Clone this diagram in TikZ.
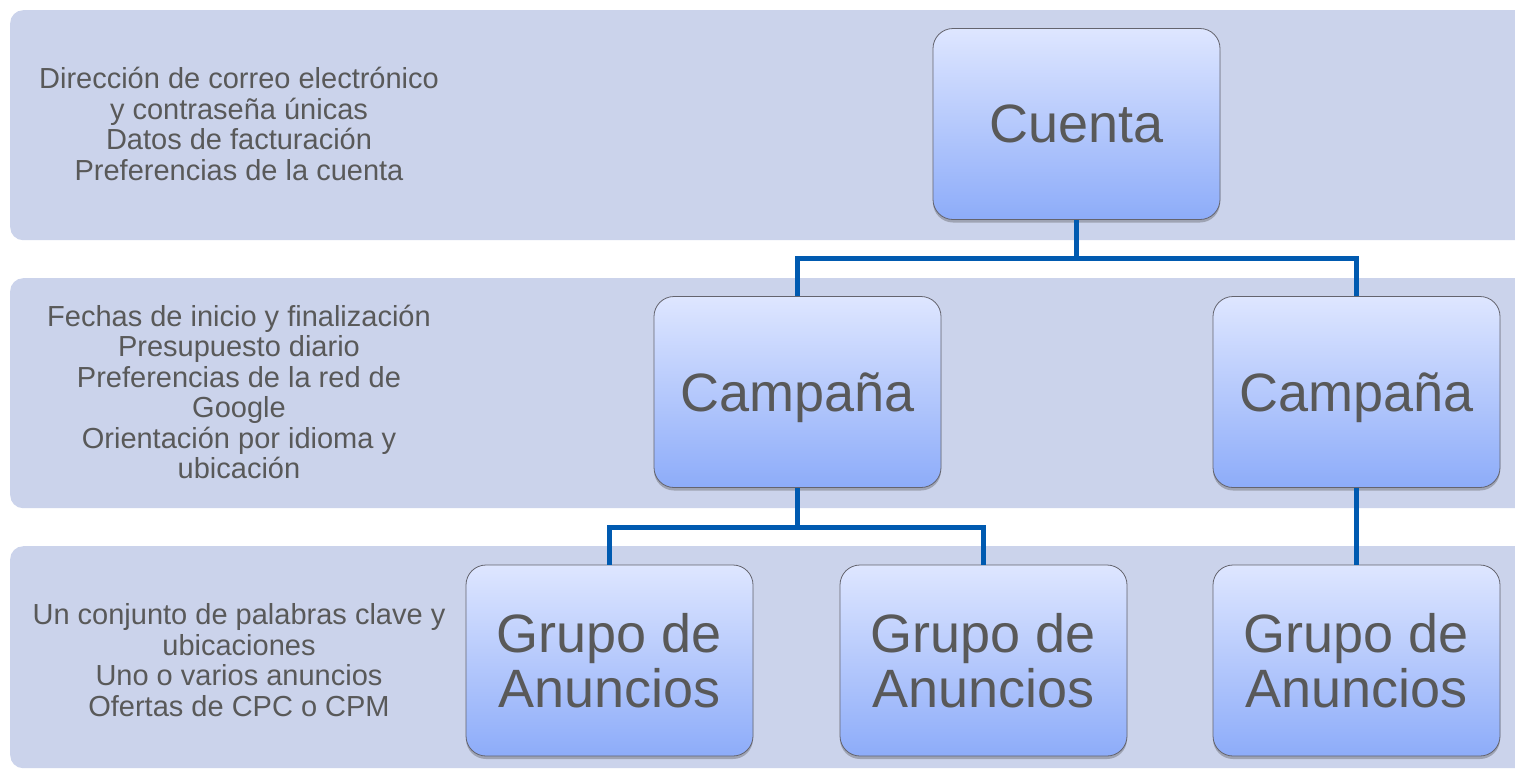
\documentclass[tikz,border=0pt]{standalone}
\usepackage{fontspec}
\setmainfont{Liberation Sans}
\usetikzlibrary{shadows}
\definecolor{bandc}{RGB}{203,211,235}
\definecolor{boxtop}{RGB}{222,230,255}
\definecolor{boxbot}{RGB}{141,172,249}
\definecolor{boxline}{RGB}{100,100,110}
\definecolor{connc}{RGB}{0,90,176}
\definecolor{txt}{RGB}{89,89,89}
\tikzset{
  band/.style={fill=bandc, draw=none, rounded corners=13pt, anchor=north west, inner sep=0pt},
  infotext/.style={text=txt, align=center, font=\fontsize{29}{30.5}\selectfont, inner sep=0pt},
  levelbox/.style={rounded corners=20pt, draw=boxline, line width=0.8pt,
    top color=boxtop, bottom color=boxbot, minimum width=287pt, minimum height=191pt,
    inner sep=0pt, text=txt, align=center, font=\fontsize{54}{55}\selectfont,
    drop shadow={opacity=0.35, shadow xshift=0pt, shadow yshift=-3pt, fill=black!70}},
  conn/.style={draw=connc, line width=5pt}
}
\begin{document}
\begin{tikzpicture}[x=1pt,y=-1pt]
\useasboundingbox (0,0) rectangle (1515,769);
\clip (0,0) rectangle (1515,769);
\node[band, minimum width=1540pt, minimum height=230pt] (b1) at (10,10) {};
\node[band, minimum width=1540pt, minimum height=230pt] (b2) at (10,278) {};
\node[band, minimum width=1540pt, minimum height=222pt] (b3) at (10,546) {};
\node[infotext] (t1) at (239,124) {Dirección de correo electrónico\\y contraseña únicas\\Datos de facturación\\Preferencias de la cuenta};
\node[infotext] (t2) at (239,392) {Fechas de inicio y finalización\\Presupuesto diario\\Preferencias de la red de\\Google\\Orientación por idioma y\\ubicación};
\node[infotext] (t3) at (239,660) {Un conjunto de palabras clave y\\ubicaciones\\Uno o varios anuncios\\Ofertas de CPC o CPM};
\coordinate (h1) at (0,258);
\coordinate (h2) at (0,527);
\node[levelbox] (cuenta) at (1076.5,124) {Cuenta};
\node[levelbox, text depth=0pt] (camp1) at (797.5,392) {Campaña};
\node[levelbox, text depth=0pt] (camp2) at (1356.5,392) {Campaña};
\node[levelbox] (g1) at (609.5,660.5) {Grupo de\\Anuncios};
\node[levelbox] (g2) at (983.5,660.5) {Grupo de\\Anuncios};
\node[levelbox] (g3) at (1356.5,660.5) {Grupo de\\Anuncios};
\draw[conn] (cuenta.south) -- (cuenta.south |- h1) -| (camp1.north);
\draw[conn] (cuenta.south |- h1) -| (camp2.north);
\draw[conn] (camp1.south) -- (camp1.south |- h2) -| (g1.north);
\draw[conn] (camp1.south |- h2) -| (g2.north);
\draw[conn] (camp2.south) -- (g3.north);
\end{tikzpicture}
\end{document}
